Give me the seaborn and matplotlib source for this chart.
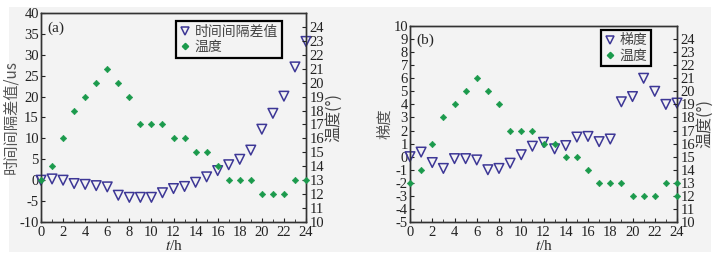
import numpy as np
import matplotlib
matplotlib.use("Agg")
import matplotlib.pyplot as plt
from matplotlib.patches import Rectangle
from matplotlib.lines import Line2D
import seaborn as sns

# ========== Data ==========
hours = list(range(25))
temp_a = [13, 14, 16, 18, 19, 20, 21, 20, 19, 17, 17, 17, 16, 16, 15, 15, 14,
          13, 13, 13, 12, 12, 12, 13, 13]
diff_a = [0.0, 0.3, 0.0, -0.8, -1.0, -1.3, -1.6, -3.6, -4.1, -4.1, -4.1, -3.0,
          -2.0, -1.5, -0.5, 0.8, 2.3, 3.7, 5.0, 7.2, 12.2, 16.0, 20.1, 27.1, 33.2]

hours_tb = list(range(25)) + [24]
temp_b = [13, 14, 16, 18, 19, 20, 21, 20, 19, 17, 17, 17, 16, 16, 15, 15, 14,
          13, 13, 13, 12, 12, 12, 13, 13, 12]
grad_b = [0.0, 0.35, -0.45, -0.9, -0.15, -0.15, -0.25, -1.0, -0.9, -0.5, 0.15,
          0.8, 1.1, 0.6, 0.85, 1.5, 1.55, 1.15, 1.35, 4.2, 4.6, 6.0, 5.0, 4.0, 4.1]

PURPLE = "#3d3796"
GREEN = "#1b9a4c"
BG = "#f3f3f3"

sns.set_style("ticks")
plt.rcParams["font.family"] = ["Liberation Serif", "Noto Sans CJK SC"]
plt.rcParams["mathtext.fontset"] = "stix"
plt.rcParams["axes.unicode_minus"] = False
CJK = ["Noto Sans CJK SC", "Liberation Serif"]

fig = plt.figure(figsize=(7.24, 2.59), dpi=100)
fig.patch.set_facecolor("white")
fig.patches.append(Rectangle((9 / 724, 7 / 259), 702 / 724, 245 / 259,
                             transform=fig.transFigure, facecolor=BG,
                             edgecolor="none", zorder=-10))


def panel(rect, xs, ys, xt, yt, ylim, yticks, ylabel, name, tag, leg_loc):
    ax = fig.add_axes(rect)
    ax.set_facecolor(BG)
    ax2 = ax.twinx()
    sns.scatterplot(x=xs, y=ys, ax=ax, marker="v", s=48, facecolor="none",
                    edgecolor=PURPLE, linewidth=1.1, zorder=3, clip_on=False)
    sns.scatterplot(x=xt, y=yt, ax=ax2, marker="D", s=11, color=GREEN,
                    edgecolor=GREEN, linewidth=0.4, zorder=3, clip_on=False)
    ax.set_xlim(0, 24)
    ax.set_xticks(range(0, 25, 2))
    ax.set_xticks(range(0, 25, 1), minor=True)
    ax.set_ylim(*ylim)
    ax.set_yticks(yticks)
    ax2.set_ylim(10, 25)
    ax2.set_yticks(range(10, 25))
    for a in (ax, ax2):
        a.tick_params(direction="in", length=3, width=0.8, labelsize=10.5,
                      pad=1.5, colors="#222222")
        a.tick_params(which="minor", direction="in", length=2, width=0.6)
        for s in a.spines.values():
            s.set_visible(True)
            s.set_color("#333333")
            s.set_linewidth(1.0)
    ax.tick_params(axis="x", pad=3)
    ax2.tick_params(axis="y", pad=2.5)
    ax.set_xlabel(r"$t$/h", fontsize=11, labelpad=0)
    ax.set_ylabel(ylabel, family=CJK, fontsize=11, labelpad=0, color="#555555")
    ax2.set_ylabel("温度(°)", family=CJK, fontsize=11.5, labelpad=1, color="#444444")
    ax.text(0.025, 0.96, tag, transform=ax.transAxes, ha="left", va="top",
            fontsize=11)
    handles = [
        Line2D([], [], marker="v", linestyle="none", markersize=6,
               markerfacecolor="none", markeredgecolor=PURPLE,
               markeredgewidth=1.1),
        Line2D([], [], marker="D", linestyle="none", markersize=3.2,
               color=GREEN),
    ]
    leg = ax.legend(handles, [name, "温度"], loc="upper left",
                    bbox_to_anchor=leg_loc, prop={"family": CJK, "size": 10},
                    frameon=True, fancybox=False, framealpha=1,
                    handlelength=0.8, handletextpad=0.3, borderpad=0.25,
                    labelspacing=0.1, borderaxespad=0)
    for t in leg.get_texts():
        t.set_color("#444444")
    leg.get_frame().set_edgecolor("black")
    leg.get_frame().set_linewidth(1.6)
    leg.get_frame().set_facecolor(BG)
    leg.set_zorder(10)
    return ax, ax2


panel([41 / 724, 37 / 259, 265 / 724, 209 / 259], hours, diff_a, hours, temp_a,
      (-10, 40), range(-10, 41, 5), "时间间隔差值/us", "时间间隔差值", "(a)",
      (0.51, 0.96))
panel([410 / 724, 37 / 259, 267 / 724, 196 / 259], hours, grad_b, hours_tb, temp_b,
      (-5, 10), range(-5, 11, 1), "梯度", "梯度", "(b)", (0.715, 0.98))

fig.savefig("out.png", dpi=100, facecolor=fig.get_facecolor())
